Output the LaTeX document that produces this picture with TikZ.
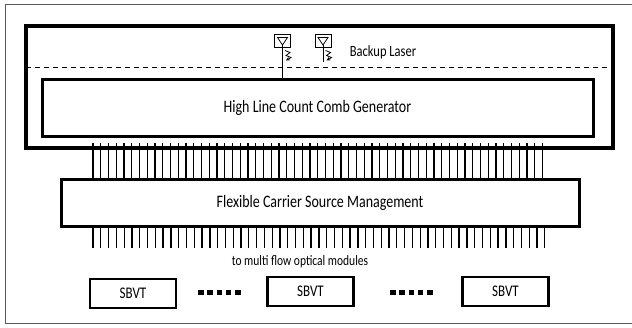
\documentclass[tikz,border=0pt]{standalone}
\usepackage{fontspec}
\setmainfont{Carlito}
\usetikzlibrary{arrows,shapes,calc}

\newcommand{\tall}[1]{\scalebox{1}[1.25]{#1}}

\tikzset{
  block/.style={draw,line width=3pt,inner sep=0pt,outer sep=0pt},
  sbvt/.style={draw,line width=2.6pt,minimum width=86pt,minimum height=29pt,inner sep=0pt,font=\fontsize{13}{13}\selectfont},
  laser/.style={draw,line width=0.9pt,minimum width=16pt,minimum height=13pt,inner sep=0pt,outer sep=0pt},
  fiber/.style={line width=1.3pt},
  dot/.style={fill=black},
}

\begin{document}
\begin{tikzpicture}[x=1pt,y=-1pt]
    \useasboundingbox (0,0) rectangle (632,327);
    \draw[gray!70!black,line width=0.8pt] (633,4) -- (5,4) -- (5,323) -- (633,323);

    \node[block,line width=3.5pt,minimum width=587pt,minimum height=122pt] (top) at (319.5,87) {};
    \coordinate (dl) at (26,67);
    \coordinate (dr) at (613,67);
    \draw[dash pattern=on 5pt off 4pt,line width=0.8pt] (dl) -- (dr);
    \node[block,minimum width=551pt,minimum height=57pt,font=\fontsize{14}{14}\selectfont] (comb) at (317.5,107.5) {\tall{High Line Count Comb Generator}};

    % lasers
    \node[laser] (laserA) at (282.5,41) {};
    \node[laser] (laserB) at (323,41) {};
    \foreach \l in {laserA,laserB} {
        \draw[line width=0.8pt] ($(\l)+(-5,-3.5)$) -- ++(10,0) -- ($(\l)+(0,4)$) -- cycle;
        \draw[line width=0.8pt,-stealth] ($(\l.south)+(2.5,3)$) -- ++(5,2) -- ++(-4,3) -- ++(5,2) -- ++(-5,3);
    }
    \draw[line width=0.9pt] ($(laserA)+(0,4)$) -- (laserA |- comb.north);
    \draw[line width=0.9pt] ($(laserB)+(0,4)$) -- ++(0,17);
    \node[font=\fontsize{12.5}{12.5}\selectfont] (backup) at (383,52) {\tall{Backup Laser}};

    \node[block,minimum width=518pt,minimum height=47pt,font=\fontsize{14}{14}\selectfont] (fcsm) at (320,202.5) {\tall{Flexible Carrier Source Management}};

    \foreach \i in {0,...,58} {
        \coordinate (c) at ({93+\i*7.75},143);
        \draw[fiber] (c) -- (c |- fcsm.north);
        \coordinate (d) at ({93+\i*7.79},248);
        \draw[fiber] (d |- fcsm.south) -- (d);
    }

    \node[font=\fontsize{11.5}{11.5}\selectfont] (modules) at (300,262) {\tall{to multi flow optical modules}};

    \node[sbvt] (s1) at (133,293.5) {\tall{SBVT}};
    \node[sbvt] (s2) at (310.5,291.5) {\tall{SBVT}};
    \node[sbvt] (s3) at (505.5,291.5) {\tall{SBVT}};
    \foreach \x in {0,...,4} {
        \fill[dot] (198+\x*9.3,289.5) rectangle ++(5.5,5.5);
        \fill[dot] (390+\x*9.3,289.5) rectangle ++(5.5,5.5);
    }
\end{tikzpicture}
\end{document}
